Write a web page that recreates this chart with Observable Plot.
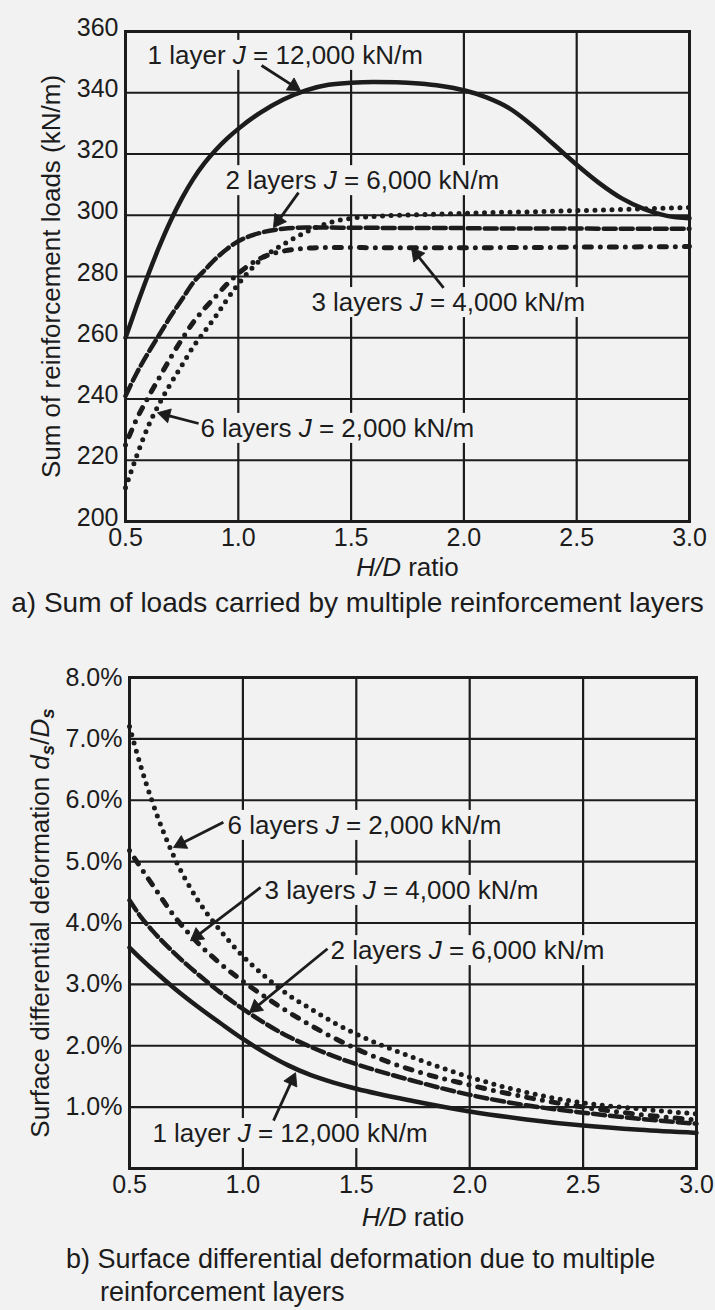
<!DOCTYPE html>
<html><head><meta charset="utf-8">
<script src="https://cdn.jsdelivr.net/npm/d3@7"></script>
<script src="https://cdn.jsdelivr.net/npm/@observablehq/plot@0.6"></script>
<style>
html,body{margin:0;padding:0;background:#f2f2f2;}
body{width:715px;height:1310px;position:relative;overflow:hidden;font-family:"Liberation Sans",Arial,sans-serif;color:#1c1c1c;}
#a{position:absolute;left:0;top:0;}
#b{position:absolute;left:0;top:620px;}
.cap{position:absolute;font-size:27px;line-height:33px;white-space:nowrap;}
svg{overflow:visible;}
</style></head><body>
<div id="a"></div>
<div class="cap" style="left:0;width:715px;text-align:center;top:586px;font-size:28px;">a) Sum of loads carried by multiple reinforcement layers</div>
<div id="b"></div>
<div class="cap" style="left:66px;top:1243px;">b) Surface differential deformation due to multiple<br><span style="padding-left:34px">reinforcement layers</span></div>
<script>
const INK = "#1c1c1c", BG = "#f2f2f2";

// ---- data ----
const seriesNames = ["1 layer J = 12,000 kN/m", "2 layers J = 6,000 kN/m", "3 layers J = 4,000 kN/m", "6 layers J = 2,000 kN/m"];

// (a) sum of reinforcement loads (kN/m) vs H/D
const hdTop = [0.5,0.55,0.6,0.65,0.7,0.75,0.8,0.85,0.9,0.95,1.0,1.1,1.2,1.3,1.4,1.5,1.6,1.7,1.8,1.9,2.0,2.1,2.2,2.3,2.4,2.5,2.6,2.7,2.8,2.9,3.0];
const load1 = [260,270.5,280.5,289.8,298.2,305.5,311.8,317,321.3,325,328.2,333.6,337.8,340.8,342.6,343.3,343.5,343.4,343,342.2,340.8,338.5,335,329.5,323,316.5,310.5,305.5,302,299.8,299];
const load2 = [241,248.5,255,261,267,272.5,278,282,285.8,289,291.5,294.3,295.6,296,296,295.9,295.9,295.8,295.8,295.8,295.8,295.7,295.7,295.7,295.7,295.7,295.6,295.6,295.6,295.6,295.6];
const load3 = [225,233.5,240.5,247,253.5,259.5,265,269.5,273.5,277.5,281,286,288.3,289.2,289.5,289.5,289.4,289.4,289.4,289.4,289.4,289.4,289.5,289.5,289.5,289.6,289.6,289.6,289.7,289.7,289.8];
const load6 = [211,221.5,231,238.5,245,251,257,262,267,272.5,277.5,285.5,290.5,294.5,297.5,299,299.6,300,300.2,300.4,300.6,300.8,301,301.1,301.3,301.5,301.7,301.9,302.1,302.3,302.5];

// (b) surface differential deformation (%) vs H/D
const hdBot = [0.5,0.55,0.6,0.7,0.8,0.9,1.0,1.1,1.2,1.3,1.4,1.5,1.75,2.0,2.25,2.5,2.75,3.0];
const def1 = [3.6,3.42,3.25,2.93,2.64,2.37,2.11,1.88,1.68,1.52,1.4,1.3,1.1,0.93,0.8,0.7,0.63,0.58];
const def2 = [4.37,4.1,3.88,3.5,3.17,2.87,2.6,2.36,2.15,1.98,1.83,1.7,1.43,1.2,1.03,0.91,0.81,0.73];
const def3 = [5.18,4.9,4.63,4.1,3.68,3.34,3.05,2.79,2.55,2.33,2.13,1.95,1.6,1.36,1.16,1.0,0.88,0.79];
const def6 = [7.2,6.55,5.98,5.05,4.38,3.88,3.46,3.12,2.83,2.6,2.38,2.19,1.81,1.49,1.24,1.07,0.97,0.89];

// ticks
const xTicks = [0.5,1.0,1.5,2.0,2.5,3.0];
const yTicksTop = [200,220,240,260,280,300,320,340,360];
const yTicksBot = [1,2,3,4,5,6,7,8];

// annotation anchors in data units: label start (tx,ty), arrow from (x1,y1) to tip (x2,y2)
const notesTop = [
  {s:0, tx:0.598, ty:352.2, x1:1.103, y1:348.9, x2:1.276, y2:340.7},
  {s:1, tx:0.943, ty:311.3, x1:1.267, y1:307.4, x2:1.156, y2:296.0},
  {s:2, tx:1.324, ty:271.5, x1:1.910, y1:276.3, x2:1.768, y2:289.3},
  {s:3, tx:0.832, ty:230.4, x1:0.824, y1:232.0, x2:0.642, y2:235.5}
];
const notesBot = [
  {s:3, tx:0.932, ty:5.59, x1:0.914, y1:5.64, x2:0.694, y2:5.23},
  {s:2, tx:1.095, ty:4.53, x1:1.078, y1:4.58, x2:0.769, y2:3.71},
  {s:1, tx:1.386, ty:3.55, x1:1.373, y1:3.58, x2:1.029, y2:2.54},
  {s:0, tx:0.601, ty:0.57, x1:1.135, y1:0.78, x2:1.232, y2:1.56}
];

// ---- build ----
const lineStyles = [
  {strokeWidth:4.5},
  {strokeWidth:4.5, strokeDasharray:"12,5"},
  {strokeWidth:5, strokeDasharray:"0,9,7,9", strokeLinecap:"round"},
  {strokeWidth:5, strokeDasharray:"0,8.5", strokeLinecap:"round"}
];

const measureCtx = document.createElement("canvas").getContext("2d");
measureCtx.font = "26px 'Liberation Sans', Arial, sans-serif";

function longTable(xs, cols) {
  return cols.flatMap((col, s) => xs.map((x, i) => ({x, v: col[i], s})));
}

// label backings and arrow geometry, in data units (pixel offsets converted through the same linear mapping Plot uses)
function annotationGeometry(o) {
  const sx = d3.scaleLinear([0.5, 3.0], [o.ml, 715 - o.mr]);
  const sy = d3.scaleLinear(o.ydomain, [o.height - o.mb, o.mt]);
  const HEAD = 8.2;
  const boxes = [], heads = [], shafts = [];
  for (const n of o.notes) {
    const w = measureCtx.measureText(seriesNames[n.s]).width;
    const px = sx(n.tx), py = sy(n.ty);
    boxes.push({x1: sx.invert(px - 5), x2: sx.invert(px + w + 6), y1: sy.invert(py - 15), y2: sy.invert(py + 15)});
    const ax = sx(n.x1), ay = sy(n.y1), bx = sx(n.x2), by = sy(n.y2);
    const L = Math.hypot(bx - ax, by - ay), ux = (bx - ax) / L, uy = (by - ay) / L;
    const cx = bx - ux * HEAD, cy = by - uy * HEAD;
    heads.push({x: sx.invert(cx), y: sy.invert(cy), rot: Math.atan2(uy, ux) * 180 / Math.PI + 90});
    shafts.push({x1: n.x1, y1: n.y1, x2: sx.invert(cx), y2: sy.invert(cy)});
  }
  return {boxes, heads, shafts};
}

function makeChart(o) {
  const data = longTable(o.xs, o.cols);
  const notes = o.notes.map(n => ({...n, label: seriesNames[n.s]}));
  const g = annotationGeometry(o);
  return Plot.plot({
    width: 715, height: o.height,
    marginTop: o.mt, marginBottom: o.mb, marginLeft: o.ml, marginRight: o.mr,
    style: {background: "transparent", fontFamily: "Liberation Sans, Arial, sans-serif", fontSize: "25px", color: INK, overflow: "visible"},
    x: {domain: [0.5, 3.0]},
    y: {domain: o.ydomain},
    marks: [
      Plot.ruleX(xTicks.slice(1, -1), {stroke: INK, strokeWidth: 2.2}),
      Plot.ruleY(o.yticks, {stroke: INK, strokeWidth: 2.2}),
      Plot.rect(g.boxes, {x1: "x1", x2: "x2", y1: "y1", y2: "y2", fill: BG}),
      ...lineStyles.map((st, s) => Plot.line(data.filter(d => d.s === s), {x: "x", y: "v", stroke: INK, curve: "monotone-x", ...st})),
      Plot.text(notes, {x: "tx", y: "ty", text: "label", textAnchor: "start", lineAnchor: "middle", fontSize: 26, fill: INK}),
      Plot.link(g.shafts, {x1: "x1", y1: "y1", x2: "x2", y2: "y2", stroke: INK, strokeWidth: 2.8}),
      Plot.dot(g.heads, {x: "x", y: "y", rotate: "rot", symbol: "triangle", r: 5.3, fill: INK, stroke: INK, strokeWidth: 0.8}),
      Plot.frame({stroke: INK, strokeWidth: 3}),
      Plot.axisX({ticks: xTicks, tickSize: 0, tickPadding: o.xpad, tickFormat: d => d.toFixed(1), fontSize: 25, fill: INK, label: null}),
      Plot.axisY({ticks: o.yticks, tickSize: 0, tickPadding: 7, dy: o.ydy, tickFormat: o.yfmt, fontSize: 25, fill: INK, label: null}),
      Plot.text([{t: "H/D ratio"}], {text: "t", frameAnchor: "bottom", dy: o.xdy, textAnchor: "middle", lineAnchor: "middle", fontSize: 26, fill: INK}),
      Plot.text([{t: o.ytitle}], {text: "t", frameAnchor: "left", dx: o.ydx, rotate: -90, textAnchor: "middle", lineAnchor: "middle", fontSize: 26, fill: INK})
    ]
  });
}

const yTitleBot = "Surface differential deformation ds/Ds";

function enrich(node) {
  d3.select(node).selectAll("text").each(function() {
    if (this.querySelector("tspan")) return;
    const t = this.textContent;
    let parts = null;
    const sel = d3.select(this);
    if (t.includes(" J = ")) {
      const [a, b] = t.split(" J = ");
      parts = [[a + " ", ""], ["J", "i"], [" = " + b, ""]];
    } else if (t === "H/D ratio") {
      parts = [["H/D", "i"], [" ratio", ""]];
    } else if (t === yTitleBot) {
      parts = [["Surface differential deformation ", ""], ["d", "i"], ["s", "sub"], ["/", "back"], ["D", "i"], ["s", "sub"]];
    }
    if (!parts) return;
    sel.text(null);
    for (const [s, k] of parts) {
      const ts = sel.append("tspan").text(s);
      if (k === "i") ts.attr("font-style", "italic");
      if (k === "sub") ts.attr("font-style", "italic").attr("font-weight", "bold").attr("font-size", "0.72em").attr("dy", "0.3em");
      if (k === "back") ts.attr("dy", "-0.22em");
    }
  });
}

const chartA = makeChart({
  xs: hdTop, cols: [load1, load2, load3, load6], notes: notesTop,
  height: 582, mt: 31, mb: 61, ml: 125, mr: 26,
  ydomain: [200, 360], yticks: yTicksTop, yfmt: d => String(d), ydy: -4,
  xpad: 7, xdy: 46, ydx: -74,
  ytitle: "Sum of reinforcement loads (kN/m)"
});
const chartB = makeChart({
  xs: hdBot, cols: [def1, def2, def3, def6], notes: notesBot,
  height: 620, mt: 57, mb: 72, ml: 129, mr: 19,
  ydomain: [0, 8], yticks: yTicksBot, yfmt: d => d.toFixed(1) + "%", ydy: 0,
  xpad: 7, xdy: 49, ydx: -89,
  ytitle: yTitleBot
});
enrich(chartA); enrich(chartB);
document.getElementById("a").appendChild(chartA);
document.getElementById("b").appendChild(chartB);
</script>
</body></html>
